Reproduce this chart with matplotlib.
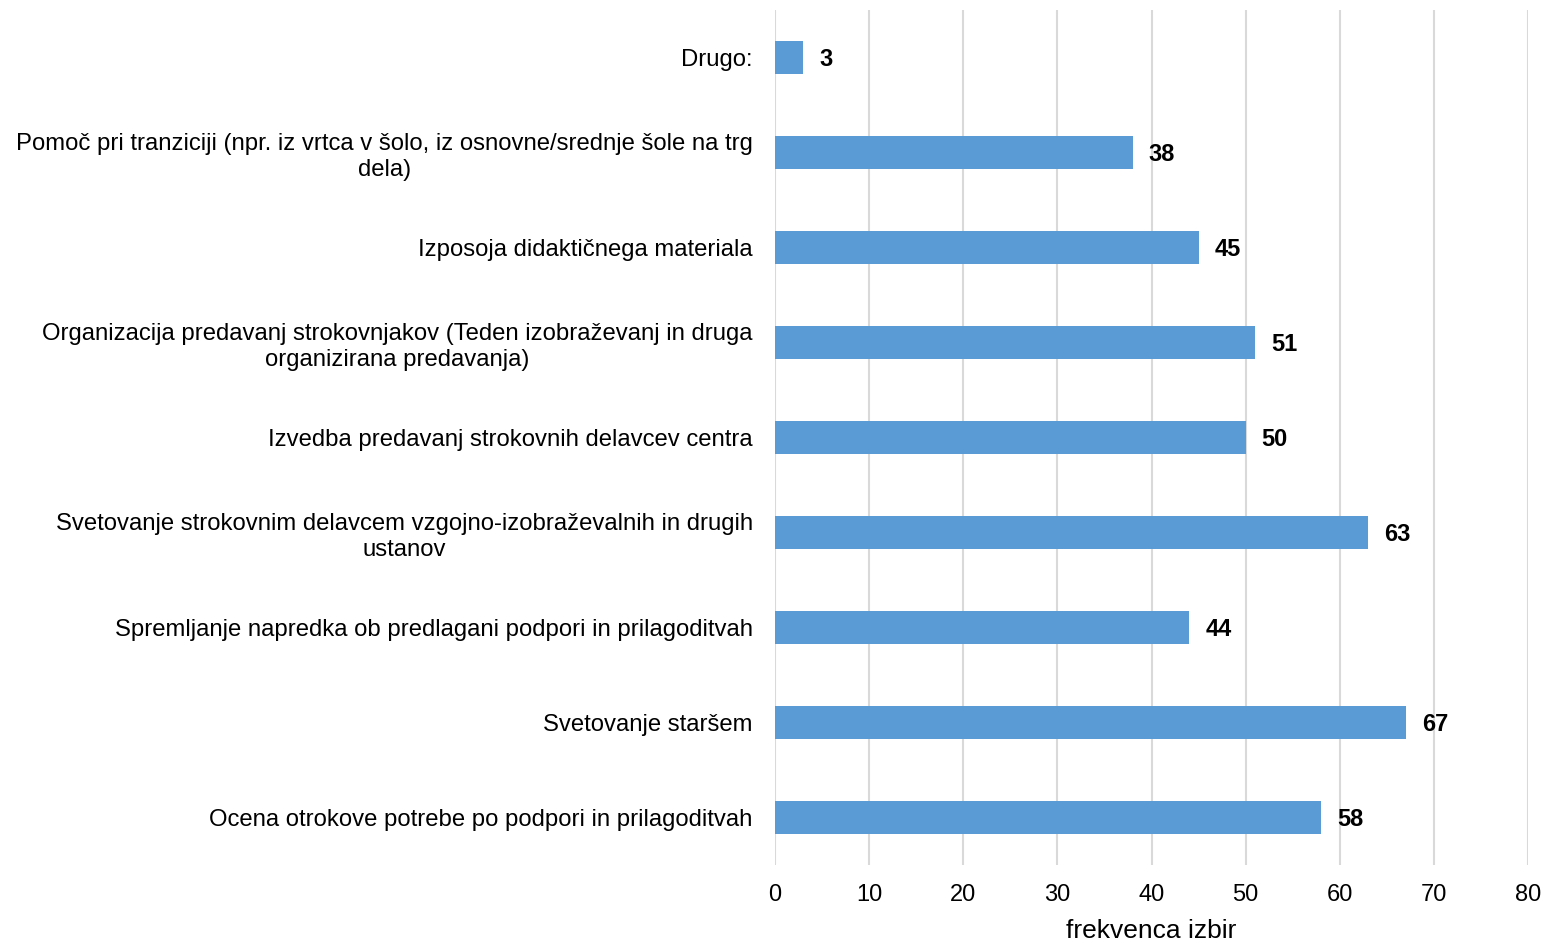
import matplotlib
matplotlib.use("Agg")
import matplotlib.pyplot as plt

categories = [
    "Ocena otrokove potrebe po podpori in prilagoditvah",
    "Svetovanje staršem",
    "Spremljanje napredka ob predlagani podpori in prilagoditvah",
    "Svetovanje strokovnim delavcem vzgojno-izobraževalnih in drugih\nustanov",
    "Izvedba predavanj strokovnih delavcev centra",
    "Organizacija predavanj strokovnjakov (Teden izobraževanj in druga\norganizirana predavanja)",
    "Izposoja didaktičnega materiala",
    "Pomoč pri tranziciji (npr. iz vrtca v šolo, iz osnovne/srednje šole na trg\ndela)",
    "Drugo:",
]
values = [58, 67, 44, 63, 50, 51, 45, 38, 3]
xticks = [0, 10, 20, 30, 40, 50, 60, 70, 80]
xlabel = "frekvenca izbir"

plt.rcParams['font.family'] = ['Liberation Sans', 'DejaVu Sans']

fig = plt.figure(figsize=(15.44, 9.43), dpi=100)
ax = fig.add_axes([775/1544, 1-865/943, (1528-775)/1544, (865-10)/943])

y = list(range(len(categories)))
ax.barh(y, values, height=0.35, color="#5B9BD5", zorder=3)
for yi, v in zip(y, values):
    ax.text(v + 1.7, yi - 0.02, str(v), va="center", ha="left", fontsize=17, fontweight="bold", color="black")

ax.set_xlim(0, 80)
ax.set_ylim(-0.5, 8.5)
ax.set_xticks(xticks)
ax.set_xticklabels([str(t) for t in xticks], fontsize=17)
ax.set_yticks(y)
ax.set_yticklabels(categories, fontsize=17.2, ha="right", multialignment="center", linespacing=1.22)
for lbl in ax.get_yticklabels():
    lbl.set_y(lbl.get_position()[1])
ax.tick_params(axis="both", length=0)
ax.tick_params(axis="x", pad=14)
ax.tick_params(axis="y", pad=16)
ax.xaxis.grid(True, color="#D9D9D9", linewidth=1.5, zorder=0)
for s in ax.spines.values():
    s.set_visible(False)
ax.set_xlabel(xlabel, fontsize=19, labelpad=9)

fig.savefig("out.png", dpi=100)
